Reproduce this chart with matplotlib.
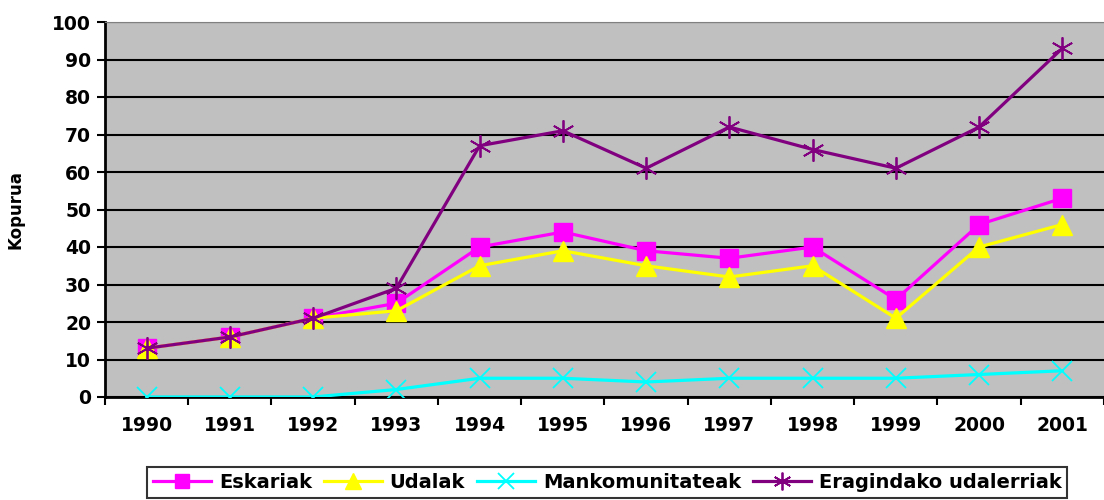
import matplotlib
matplotlib.use('Agg')
import matplotlib.pyplot as plt

# ── Data ──────────────────────────────────────────────────────────────────
years = ["1990", "1991", "1992", "1993", "1994", "1995",
         "1996", "1997", "1998", "1999", "2000", "2001"]
eskariak = [13, 16, 21, 25, 40, 44, 39, 37, 40, 26, 46, 53]
udalak = [13, 16, 21, 23, 35, 39, 35, 32, 35, 21, 40, 46]
mankomunitateak = [0, 0, 0, 2, 5, 5, 4, 5, 5, 5, 6, 7]
eragindako = [13, 16, 21, 29, 67, 71, 61, 72, 66, 61, 72, 93]

plt.rcParams['font.family'] = 'DejaVu Sans'
plt.rcParams['font.weight'] = 'bold'

fig = plt.figure(figsize=(11.04, 5.0), dpi=100)
ax = fig.add_axes([0.0951, 0.206, 0.9049, 0.75])
ax.set_facecolor("#C0C0C0")

x = list(range(len(years)))
ax.plot(x, eskariak, color="#FF00FF", linewidth=2.3, marker="s", markersize=13,
        label="Eskariak", zorder=3)
ax.plot(x, udalak, color="#FFFF00", linewidth=2.3, marker="^", markersize=14,
        label="Udalak", zorder=3)
ax.plot(x, mankomunitateak, color="#00FFFF", linewidth=2.3, marker="x", markersize=14,
        markeredgewidth=1.3, label="Mankomunitateak", zorder=3)
ax.plot(x, eragindako, color="#800080", linewidth=2.3, marker=(6, 2, 0), markersize=16,
        markeredgewidth=1.3, label="Eragindako udalerriak", zorder=4)

ax.set_xlim(-0.5, len(years) - 0.5)
ax.set_ylim(0, 100)
ax.set_yticks(range(0, 101, 10))
ax.set_xticks(x)
ax.set_xticklabels(years)
ax.set_xticks([i + 0.5 for i in range(-1, len(years))], minor=True)
ax.tick_params(axis='x', which='major', length=0, pad=14, labelsize=13.5)
ax.tick_params(axis='x', which='minor', length=6, width=1.5, direction='out')
ax.tick_params(axis='y', length=6, width=1.5, labelsize=13.5, pad=4)

ax.grid(True, axis='y', color='black', linewidth=1.5)
ax.set_axisbelow(True)
ax.spines['left'].set_linewidth(2)
ax.spines['bottom'].set_linewidth(2)
ax.spines['right'].set_visible(False)
ax.spines['top'].set_color('#808080')
ax.set_ylabel("Kopurua", fontsize=12, fontweight='bold', labelpad=20)

leg = fig.legend(loc='upper center', bbox_to_anchor=(0.55, 0.066), ncol=4,
                 frameon=True, fancybox=False, edgecolor='black', fontsize=14,
                 handlelength=3.0, columnspacing=0.6, handletextpad=0.4,
                 borderpad=0.3, borderaxespad=0, markerscale=0.8)
leg.get_frame().set_linewidth(1.5)

fig.savefig("out.png", dpi=100)
